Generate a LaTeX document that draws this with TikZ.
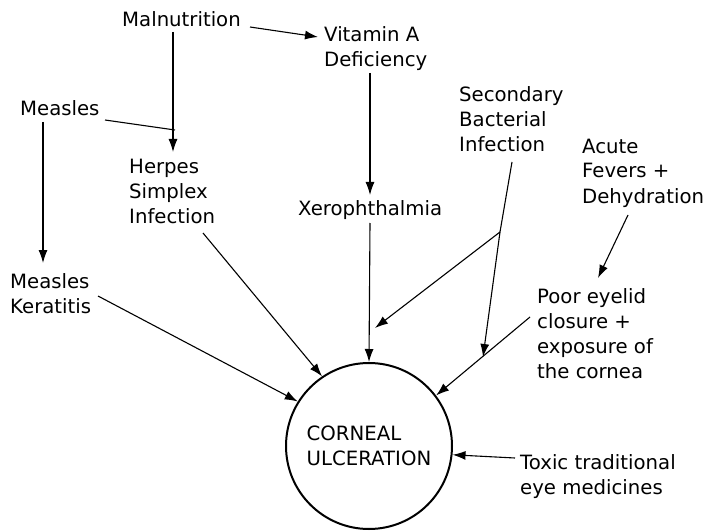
\documentclass[tikz,border=0pt]{standalone}
\usepackage{fontspec}
\setmainfont{DejaVu Sans}
\usetikzlibrary{arrows.meta}
\begin{document}
\begin{tikzpicture}[x=1pt,y=-1pt,
  lbl/.style={anchor=base west, inner sep=0pt, align=left, font=\fontsize{19.7}{25}\selectfont},
  arr/.style={line width=1.1pt, -{Latex[length=13pt,width=9pt]}},
  ln/.style={line width=1.1pt}]
\useasboundingbox (0,0) rectangle (707,532);
% labels (anchor = baseline of the last line)
\node[lbl] (mal) at (122,27) {Malnutrition};
\node[lbl] (vit) at (324,67) {Vitamin A\\Deficiency};
\node[lbl] (mea) at (20,116) {Measles};
\node[lbl] (her) at (129,223) {Herpes\\Simplex\\Infection};
\node[lbl] (sec) at (459,152) {Secondary\\Bacterial\\Infection};
\node[lbl] (acu) at (582,203) {Acute\\Fevers +\\Dehydration};
\node[lbl] (xer) at (298,215) {Xerophthalmia};
\node[lbl] (mk) at (10,313) {Measles\\Keratitis};
\node[lbl] (poo) at (537,378) {Poor eyelid\\closure +\\exposure of\\the cornea};
\node[lbl] (tox) at (520,494) {Toxic traditional\\eye medicines};
\node[circle, draw, line width=2pt, minimum size=166pt, inner sep=0pt, align=left,
      font=\fontsize{19.7}{25}\selectfont] (cu) at (369,446) {CORNEAL\\ULCERATION};
% connector end points
\coordinate (malE) at (250,27);
\coordinate (vitW) at (318,37);
\coordinate (malS) at (173,32);
\coordinate (herN) at (173,152);
\coordinate (meaE) at (105,120);
\coordinate (join) at (175,130);
\coordinate (meaS) at (43,122);
\coordinate (mkN) at (43,263);
\coordinate (vitS) at (370,73);
\coordinate (xerN) at (370,195);
\coordinate (xerS) at (370,223);
\coordinate (secS) at (512,162);
\coordinate (br) at (500,232);
\coordinate (onX) at (375,328);
\coordinate (onP) at (483,357);
\coordinate (herS) at (203,233);
\coordinate (mkE) at (98,296);
\coordinate (acuS) at (628,215);
\coordinate (pooN) at (598,278);
\coordinate (pooW) at (530,317);
\coordinate (toxW) at (515,458);
% connectors
\draw[arr] (malE) -- (vitW);
\draw[arr] (malS) -- (herN);
\draw[ln] (meaE) -- (join);
\draw[arr] (meaS) -- (mkN);
\draw[arr] (vitS) -- (xerN);
\draw[arr] (xerS) -- (cu.north);
\draw[ln] (secS) -- (br);
\draw[arr] (br) -- (onX);
\draw[arr] (br) -- (onP);
\draw[arr] (herS) -- (cu.124);
\draw[arr] (mkE) -- (cu.148);
\draw[arr] (acuS) -- (pooN);
\draw[arr] (pooW) -- (cu.37);
\draw[arr] (toxW) -- (cu.-6);
\end{tikzpicture}
\end{document}
